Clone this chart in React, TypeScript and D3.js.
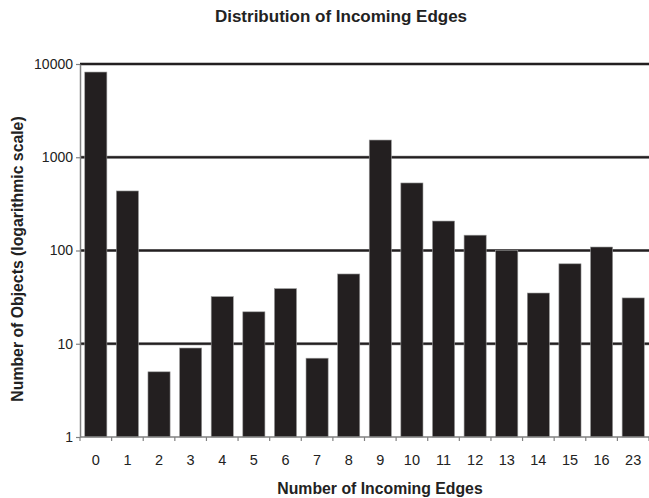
import React, { useEffect, useRef } from "react";
import * as d3 from "d3";

const categories = ["0", "1", "2", "3", "4", "5", "6", "7", "8", "9", "10", "11", "12", "13", "14", "15", "16", "23"];
const counts = [8200, 435, 5, 9, 32, 22, 39, 7, 56, 1530, 530, 207, 146, 100, 35, 72, 109, 31];
const yTicks = [1, 10, 100, 1000, 10000];

const App = () => {
  const ref = useRef<SVGSVGElement>(null);

  useEffect(() => {
    const svg = d3.select(ref.current);
    svg.selectAll("*").remove();

    const width = 649,
      height = 498;
    const margin = { top: 64, right: 0, bottom: 61, left: 80 };
    const font = "'Liberation Sans', Arial, sans-serif";

    const x = d3
      .scaleBand()
      .domain(categories)
      .range([margin.left, width - margin.right])
      .paddingInner(0.3)
      .paddingOuter(0.15);
    const y = d3
      .scaleLog()
      .domain([1, 10000])
      .range([height - margin.bottom, margin.top]);

    // gridlines
    const grid = yTicks.filter((t) => t > 1);
    svg
      .selectAll("line.gridbg")
      .data(grid)
      .enter()
      .append("line")
      .attr("x1", margin.left)
      .attr("x2", width)
      .attr("y1", (d) => y(d))
      .attr("y2", (d) => y(d))
      .attr("stroke", "#8a8a8a")
      .attr("stroke-width", 3);
    svg
      .selectAll("line.grid")
      .data(grid)
      .enter()
      .append("line")
      .attr("x1", margin.left)
      .attr("x2", width)
      .attr("y1", (d) => y(d))
      .attr("y2", (d) => y(d))
      .attr("stroke", "#231f20")
      .attr("stroke-width", 1.8);

    // bars
    svg
      .selectAll("rect.bar")
      .data(counts)
      .enter()
      .append("rect")
      .attr("x", (_, i) => x(categories[i])!)
      .attr("width", x.bandwidth())
      .attr("y", (d) => y(d))
      .attr("height", (d) => y(1) - y(d))
      .attr("fill", "#231f20")
      .attr("stroke", "#9a9a9a")
      .attr("stroke-width", 0.6);

    // y axis
    const yAxis = svg
      .append("g")
      .attr("transform", `translate(${margin.left},0)`)
      .call(
        d3
          .axisLeft(y)
          .tickValues(yTicks)
          .tickFormat((d) => String(d))
          .tickSize(4)
          .tickSizeOuter(0)
      );
    yAxis.select(".domain").attr("stroke", "#808080").attr("stroke-width", 1.5);
    yAxis.selectAll(".tick line").attr("stroke", "#808080").attr("stroke-width", 1.2);
    yAxis
      .selectAll(".tick text")
      .attr("font-family", font)
      .attr("font-size", 14)
      .attr("fill", "#222")
      .attr("x", -7);

    // x axis
    const step = x.step();
    const boundaries = d3.range(categories.length + 1).map((i) => margin.left + i * step);
    svg
      .append("line")
      .attr("x1", margin.left)
      .attr("x2", width)
      .attr("y1", y(1))
      .attr("y2", y(1))
      .attr("stroke", "#808080")
      .attr("stroke-width", 1.5);
    svg
      .selectAll("line.xtick")
      .data(boundaries)
      .enter()
      .append("line")
      .attr("x1", (d) => d)
      .attr("x2", (d) => d)
      .attr("y1", y(1))
      .attr("y2", y(1) + 4)
      .attr("stroke", "#808080")
      .attr("stroke-width", 1.2);
    svg
      .selectAll("text.xlabel")
      .data(categories)
      .enter()
      .append("text")
      .attr("x", (d) => x(d)! + x.bandwidth() / 2)
      .attr("y", 465)
      .attr("text-anchor", "middle")
      .attr("font-family", font)
      .attr("font-size", 14.5)
      .attr("fill", "#222")
      .text((d) => d);

    // titles
    svg
      .append("text")
      .attr("x", 341)
      .attr("y", 22)
      .attr("text-anchor", "middle")
      .attr("font-family", font)
      .attr("font-weight", "bold")
      .attr("font-size", 17)
      .attr("fill", "#222")
      .text("Distribution of Incoming Edges");
    svg
      .append("text")
      .attr("x", 380)
      .attr("y", 494)
      .attr("text-anchor", "middle")
      .attr("font-family", font)
      .attr("font-weight", "bold")
      .attr("font-size", 15.8)
      .attr("fill", "#222")
      .text("Number of Incoming Edges");
    svg
      .append("text")
      .attr("transform", `translate(23,${259}) rotate(-90)`)
      .attr("text-anchor", "middle")
      .attr("font-family", font)
      .attr("font-weight", "bold")
      .attr("font-size", 15.8)
      .attr("fill", "#222")
      .text("Number of Objects (logarithmic scale)");
  }, []);

  return (
    <svg
      ref={ref}
      width={649}
      height={498}
      style={{ position: "absolute", left: 0, top: 0, background: "#fff" }}
    />
  );
};

export default App;
